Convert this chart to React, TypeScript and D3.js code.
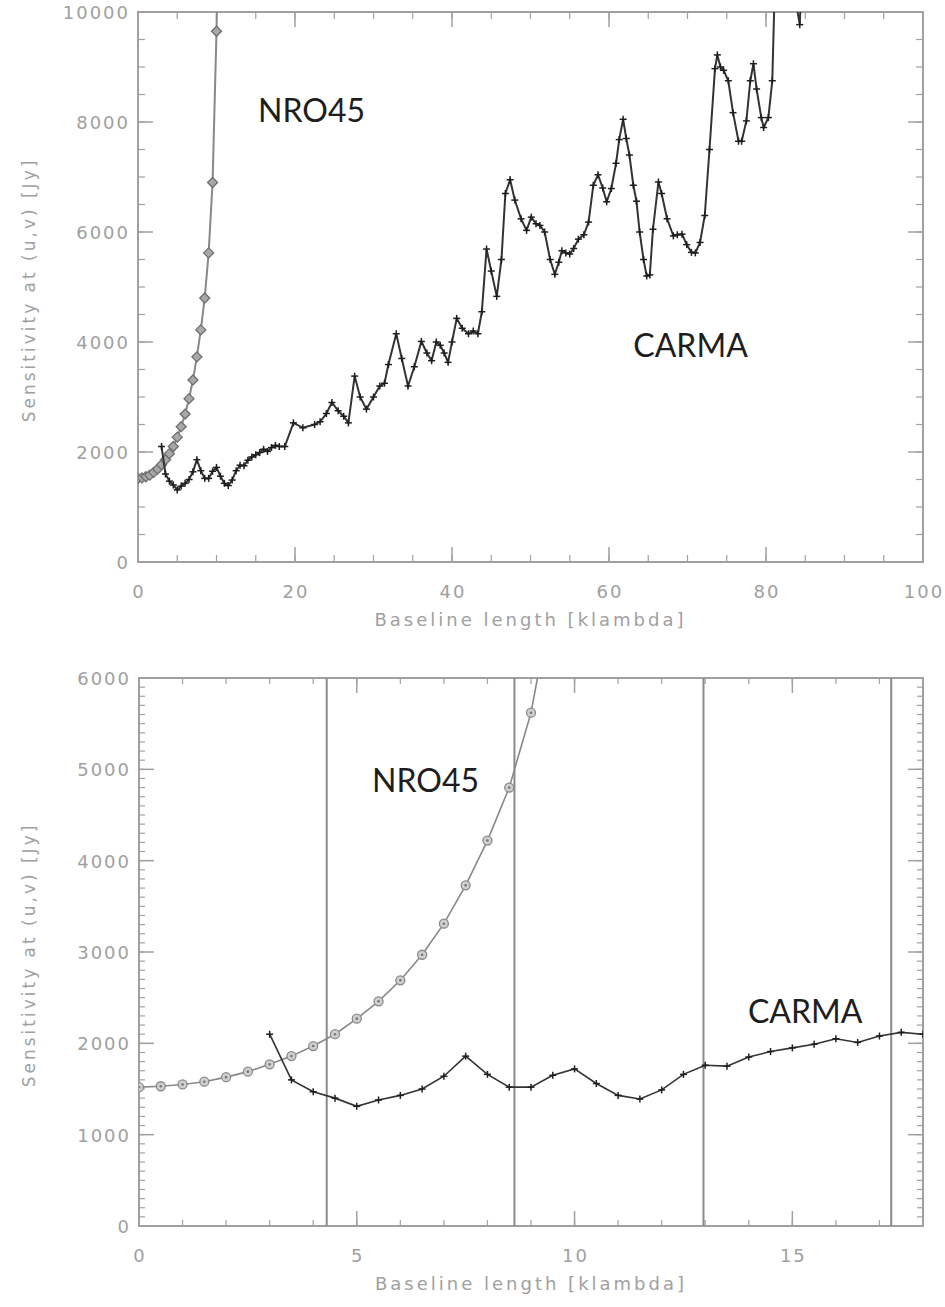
import { scaleLinear, line, range } from "d3";

// NRO45 sensitivity curve (klambda, Jy)
const nroBaseline = [0, 0.5, 1, 1.5, 2, 2.5, 3, 3.5, 4, 4.5, 5, 5.5, 6, 6.5, 7, 7.5, 8, 8.5, 9, 9.5, 10, 10.5];
const nroSensitivity = [1520, 1530, 1550, 1580, 1630, 1690, 1770, 1860, 1970, 2100, 2270, 2460, 2690, 2970, 3310, 3730, 4220, 4800, 5620, 6900, 9650, 14000];

// CARMA sensitivity curve
const carmaBaseline = [
  3, 3.5, 4, 4.5, 5, 5.5, 6, 6.5, 7, 7.5, 8, 8.5, 9, 9.5, 10, 10.5, 11, 11.5, 12, 12.5, 13, 13.5, 14, 14.5, 15, 15.5, 16, 16.5, 17, 17.5, 18,
  18.7, 19.8, 21, 22.5, 23.2, 24, 24.7, 25.5, 26.2, 26.8, 27.6, 28.3, 29.1, 30, 30.8, 31.4, 31.9, 32.9, 33.6, 34.4, 35.2, 36.1, 36.8, 37.4,
  38, 38.5, 39, 39.5, 40, 40.6, 41.3, 42.1, 42.7, 43.3, 43.8, 44.4, 45, 45.7, 46.3, 46.8, 47.4, 48, 48.8, 49.5, 50.1, 50.7, 51.2, 51.8,
  52.5, 53.1, 53.6, 54, 54.5, 55, 55.5, 56.1, 56.8, 57.4, 58, 58.6, 59.2, 59.7, 60.3, 60.9, 61.3, 61.8, 62.2, 62.6, 63.1, 63.5, 63.9,
  64.4, 64.8, 65.2, 65.6, 66.3, 66.7, 67.4, 68.2, 68.7, 69.3, 69.9, 70.5, 71, 71.6, 72.2, 72.8, 73.5, 73.8, 74.2, 74.6, 75.2, 75.8,
  76.5, 76.9, 77.5, 78, 78.4, 78.8, 79.4, 79.7, 80.3, 80.8, 81.4, 83.2, 83.9, 84.3, 84.8,
];
const carmaSensitivity = [
  2100, 1600, 1470, 1400, 1310, 1380, 1430, 1500, 1640, 1860, 1660, 1520, 1520, 1650, 1720, 1560, 1430, 1390, 1490, 1660, 1760, 1750, 1850, 1910, 1950, 1990, 2050, 2010, 2080, 2120, 2100,
  2100, 2530, 2440, 2500, 2550, 2700, 2900, 2750, 2650, 2530, 3380, 3000, 2780, 3000, 3200, 3250, 3590, 4150, 3700, 3200, 3550, 4010, 3800, 3660,
  4000, 3940, 3800, 3630, 4000, 4430, 4250, 4150, 4200, 4150, 4550, 5690, 5290, 4830, 5500, 6700, 6950, 6580, 6240, 6030, 6270, 6150, 6120, 6000,
  5500, 5230, 5450, 5660, 5620, 5600, 5700, 5870, 5950, 6180, 6850, 7040, 6800, 6550, 6790, 7250, 7680, 8050, 7700, 7400, 6850, 6560, 6000,
  5500, 5200, 5220, 6050, 6910, 6700, 6240, 5930, 5950, 5960, 5770, 5630, 5620, 5810, 6300, 7500, 8970, 9220, 9000, 8940, 8750, 8170,
  7650, 7650, 8020, 8750, 9060, 8600, 8080, 7900, 8080, 8750, 12000, 13000, 10100, 9770, 11500,
];

// tick labels
const topXTicks = [0, 20, 40, 60, 80, 100];
const topYTicks = [0, 2000, 4000, 6000, 8000, 10000];
const bottomXTicks = [0, 5, 10, 15];
const bottomYTicks = [0, 1000, 2000, 3000, 4000, 5000, 6000];

// vertical reference lines in the zoomed panel (klambda)
const baselineMarks = [4.31, 8.62, 12.96, 17.27];

const GREY = "#a0a0a0";
const TICK_FONT = "DejaVu Sans, sans-serif";

type PanelProps = {
  id: string;
  left: number;
  right: number;
  top: number;
  bottom: number;
  xMax: number;
  yMax: number;
  xTicks: number[];
  yTicks: number[];
  xMinor: number;
  yMinor: number;
  minorLen: number;
  zoomed: boolean;
  nroLabel: [number, number];
  carmaLabel: [number, number];
  vlines?: number[];
};

function Panel(p: PanelProps) {
  const x = scaleLinear().domain([0, p.xMax]).range([p.left, p.right]);
  const y = scaleLinear().domain([0, p.yMax]).range([p.bottom, p.top]);

  const nro = nroBaseline.map((b, i) => [b, nroSensitivity[i]] as [number, number]);
  const carma = carmaBaseline
    .map((b, i) => [b, carmaSensitivity[i]] as [number, number])
    .filter((d) => d[0] <= p.xMax + 1);

  const path = line<[number, number]>()
    .x((d) => x(d[0]))
    .y((d) => y(d[1]));

  const xMinorTicks = range(0, p.xMax + 0.001, p.xMinor);
  const yMinorTicks = range(0, p.yMax + 0.001, p.yMinor);
  const majorLen = 15;

  const ds = 5;

  return (
    <g>
      <defs>
        <clipPath id={p.id}>
          <rect x={p.left} y={p.top} width={p.right - p.left} height={p.bottom - p.top} />
        </clipPath>
      </defs>

      {/* frame */}
      <rect
        x={p.left}
        y={p.top}
        width={p.right - p.left}
        height={p.bottom - p.top}
        fill="none"
        stroke={GREY}
        strokeWidth={2}
      />

      {/* minor ticks */}
      <g stroke={GREY} strokeWidth={1.2}>
        {xMinorTicks.map((t) => (
          <g key={"xm" + t}>
            <line x1={x(t)} x2={x(t)} y1={p.bottom} y2={p.bottom - p.minorLen} />
            <line x1={x(t)} x2={x(t)} y1={p.top} y2={p.top + p.minorLen} />
          </g>
        ))}
        {yMinorTicks.map((t) => (
          <g key={"ym" + t}>
            <line x1={p.left} x2={p.left + p.minorLen} y1={y(t)} y2={y(t)} />
            <line x1={p.right} x2={p.right - p.minorLen} y1={y(t)} y2={y(t)} />
          </g>
        ))}
      </g>

      {/* major ticks */}
      <g stroke={GREY} strokeWidth={1.5}>
        {p.xTicks.map((t) => (
          <g key={"xM" + t}>
            <line x1={x(t)} x2={x(t)} y1={p.bottom} y2={p.bottom - majorLen} />
            <line x1={x(t)} x2={x(t)} y1={p.top} y2={p.top + majorLen} />
          </g>
        ))}
        {p.yTicks.map((t) => (
          <g key={"yM" + t}>
            <line x1={p.left} x2={p.left + majorLen} y1={y(t)} y2={y(t)} />
            <line x1={p.right} x2={p.right - majorLen} y1={y(t)} y2={y(t)} />
          </g>
        ))}
      </g>

      {/* tick labels */}
      <g fill={GREY} fontFamily={TICK_FONT} fontSize={18} letterSpacing={2}>
        {p.xTicks.map((t) => (
          <text key={"xl" + t} x={x(t) + 1} y={p.bottom + 36} textAnchor="middle">
            {t}
          </text>
        ))}
        {p.yTicks.map((t) => (
          <text key={"yl" + t} x={p.left - 8} y={y(t) + 7} textAnchor="end">
            {t}
          </text>
        ))}
      </g>

      {/* axis titles */}
      <text
        x={(p.left + p.right) / 2}
        y={p.bottom + 64}
        textAnchor="middle"
        fill={GREY}
        fontFamily={TICK_FONT}
        fontSize={18}
        letterSpacing={3}
      >
        Baseline length [klambda]
      </text>
      <text
        transform={`translate(${35}, ${(p.top + p.bottom) / 2 + 3}) rotate(-90)`}
        textAnchor="middle"
        fill={GREY}
        fontFamily={TICK_FONT}
        fontSize={17}
        letterSpacing={3}
      >
        Sensitivity at (u,v) [Jy]
      </text>

      {/* reference lines */}
      {(p.vlines || []).map((v) => (
        <line key={"v" + v} x1={x(v)} x2={x(v)} y1={p.top} y2={p.bottom} stroke="#8a8a8a" strokeWidth={2} />
      ))}

      <g clipPath={`url(#${p.id})`}>
        {/* NRO45 */}
        <path d={path(nro) || ""} fill="none" stroke="#888" strokeWidth={p.zoomed ? 1.6 : 2} />
        {nro.map((d, i) =>
          p.zoomed ? (
            <g key={"n" + i}>
              <circle cx={x(d[0])} cy={y(d[1])} r={4.5} fill="#cfcfcf" stroke="#8a8a8a" strokeWidth={1.3} />
              <circle cx={x(d[0])} cy={y(d[1])} r={1.3} fill="#777" />
            </g>
          ) : (
            <path
              key={"n" + i}
              d={`M${x(d[0])},${y(d[1]) - ds}L${x(d[0]) + ds},${y(d[1])}L${x(d[0])},${y(d[1]) + ds}L${x(d[0]) - ds},${y(d[1])}Z`}
              fill="#a8a8a8"
              stroke="#6e6e6e"
              strokeWidth={1.3}
            />
          )
        )}

        {/* CARMA */}
        <path d={path(carma) || ""} fill="none" stroke="#333" strokeWidth={p.zoomed ? 1.6 : 2} />
        {carma.map((d, i) => (
          <g key={"c" + i} stroke="#1e1e1e" strokeWidth={1.5}>
            <line x1={x(d[0]) - 3.5} x2={x(d[0]) + 3.5} y1={y(d[1])} y2={y(d[1])} />
            <line x1={x(d[0])} x2={x(d[0])} y1={y(d[1]) - 3.5} y2={y(d[1]) + 3.5} />
          </g>
        ))}
      </g>

      {/* curve labels */}
      <g fontFamily="Lato, sans-serif" fontSize={32} fill="#1e1e1e">
        <text x={x(p.nroLabel[0])} y={y(p.nroLabel[1])}>
          NRO45
        </text>
        <text x={x(p.carmaLabel[0])} y={y(p.carmaLabel[1])}>
          CARMA
        </text>
      </g>
    </g>
  );
}

function App() {
  return (
    <div style={{ position: "absolute", left: 0, top: 0 }}>
      <svg width={945} height={1307} style={{ display: "block", background: "#fff" }}>
        <Panel
          id="clip-top"
          left={138}
          right={923}
          top={12}
          bottom={562}
          xMax={100}
          yMax={10000}
          xTicks={topXTicks}
          yTicks={topYTicks}
          xMinor={5}
          yMinor={500}
          minorLen={7}
          zoomed={false}
          nroLabel={[15.3, 8000]}
          carmaLabel={[63.1, 3730]}
        />
        <Panel
          id="clip-bottom"
          left={139}
          right={923}
          top={678}
          bottom={1226}
          xMax={18}
          yMax={6000}
          xTicks={bottomXTicks}
          yTicks={bottomYTicks}
          xMinor={1}
          yMinor={100}
          minorLen={6}
          zoomed={true}
          nroLabel={[5.35, 4750]}
          carmaLabel={[13.98, 2220]}
          vlines={baselineMarks}
        />
      </svg>
    </div>
  );
}

export default App;
